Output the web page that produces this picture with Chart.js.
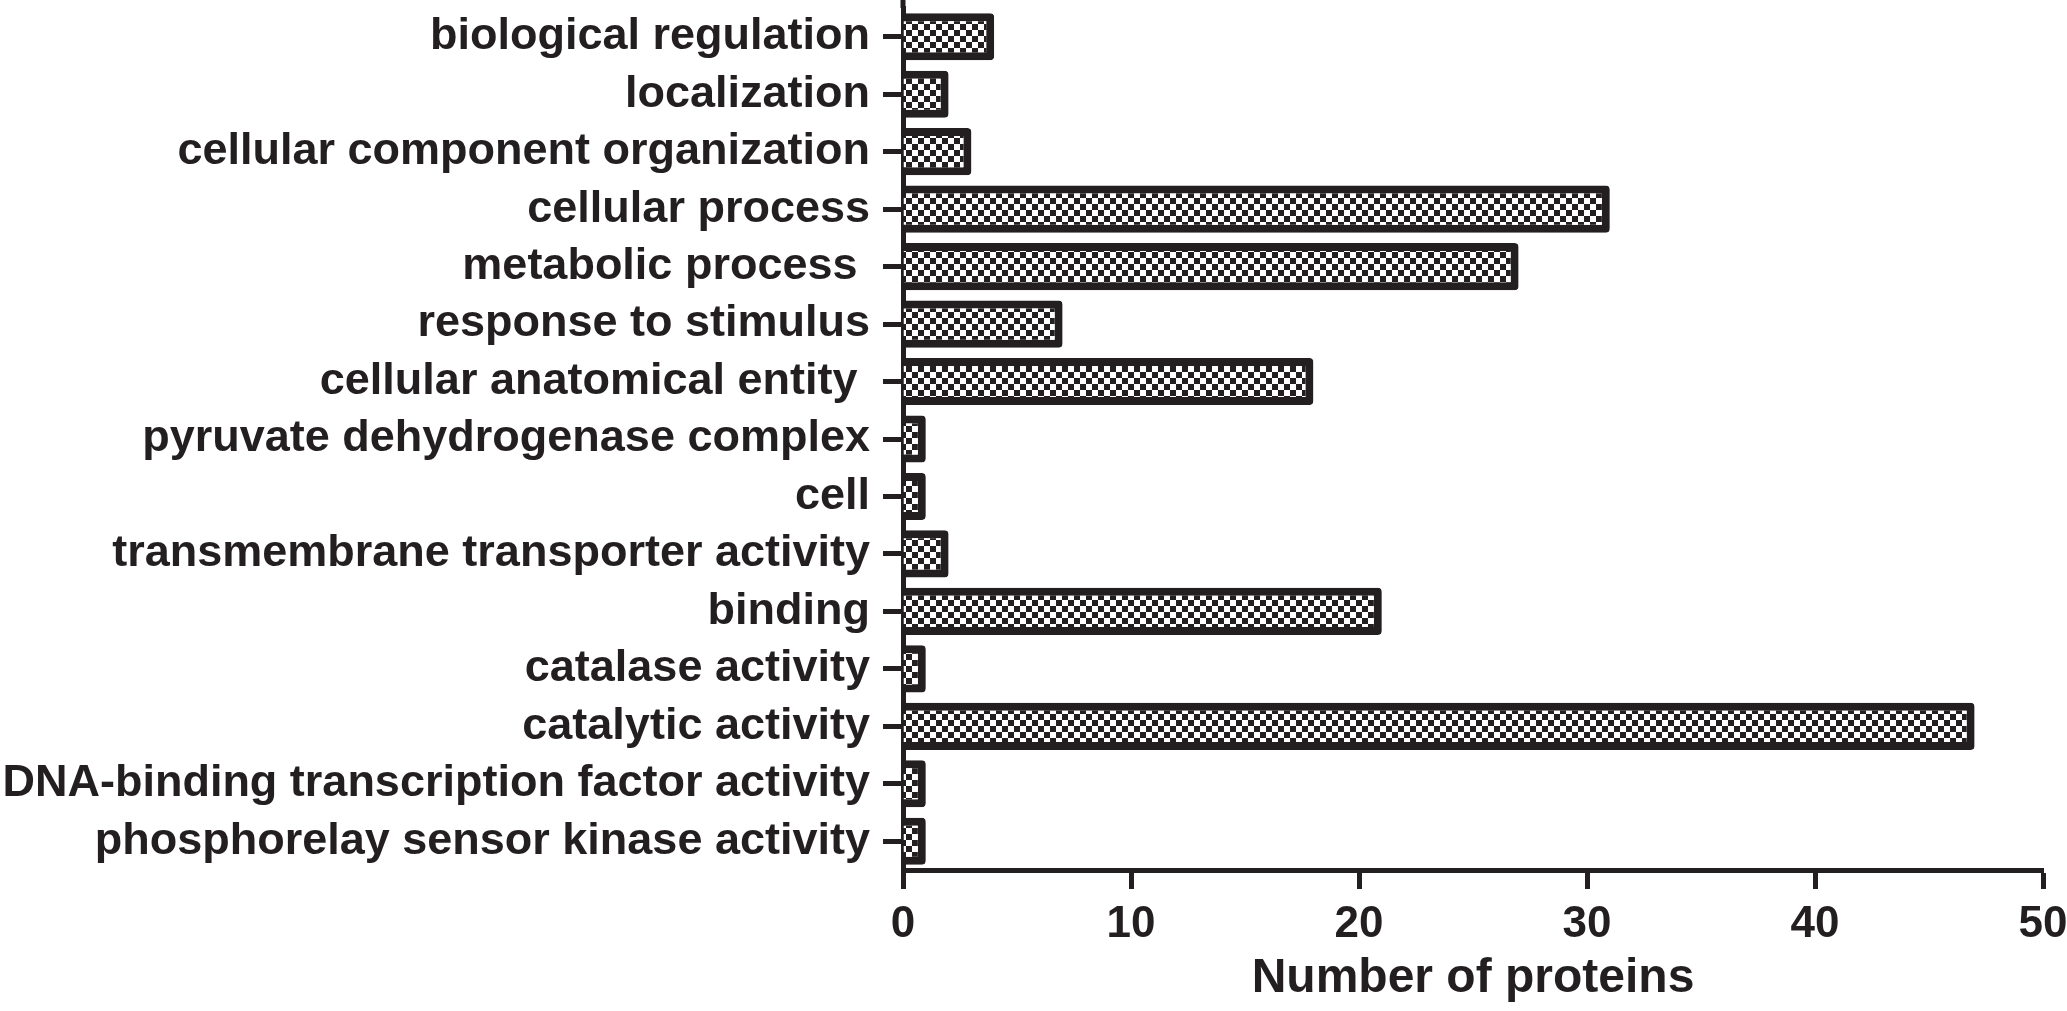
<!DOCTYPE html>
<html>
<head>
<meta charset="utf-8">
<script src="https://cdn.jsdelivr.net/npm/chart.js@4.4.1/dist/chart.umd.min.js"></script>
<style>
  html, body { margin: 0; padding: 0; background: #fff; }
  #wrap { width: 2067px; height: 1011px; position: relative; }
</style>
</head>
<body>
<div id="wrap"><canvas id="goChart"></canvas></div>
<script>
// GO categories, top to bottom as in the figure
var categories = [
  'biological regulation',
  'localization',
  'cellular component organization',
  'cellular process',
  'metabolic process ',
  'response to stimulus',
  'cellular anatomical entity ',
  'pyruvate dehydrogenase complex',
  'cell',
  'transmembrane transporter activity',
  'binding',
  'catalase activity',
  'catalytic activity',
  'DNA-binding transcription factor activity',
  'phosphorelay sensor kinase activity'
];
var proteinCounts = [4, 2, 3, 31, 27, 7, 18, 1, 1, 2, 21, 1, 47, 1, 1];
var xMin = 0, xMax = 50, xStep = 10;
var xTitle = 'Number of proteins';

var ink = '#231f20';

// checkered fill like the printed figure
function makeChecker() {
  var c = document.createElement('canvas');
  c.width = 12; c.height = 12;
  var g = c.getContext('2d');
  g.fillStyle = '#fff';
  g.fillRect(0, 0, 12, 12);
  g.fillStyle = ink;
  g.fillRect(0, 0, 6, 6);
  g.fillRect(6, 6, 6, 6);
  return g.createPattern(c, 'repeat');
}

// the y axis line in the figure runs up to the top edge
var axisTop = {
  id: 'axisTop',
  afterDraw: function(chart) {
    var ctx = chart.ctx, a = chart.chartArea;
    ctx.save();
    ctx.strokeStyle = ink;
    ctx.lineWidth = 5;
    ctx.beginPath();
    ctx.moveTo(a.left, 0);
    ctx.lineTo(a.left, a.top);
    ctx.stroke();
    ctx.restore();
  }
};

var ctx = document.getElementById('goChart').getContext('2d');
var goChart = new Chart(ctx, {
  type: 'bar',
  data: {
    labels: categories,
    datasets: [{
      data: proteinCounts,
      backgroundColor: makeChecker(),
      borderColor: ink,
      borderWidth: 8,
      borderRadius: 4,
      barPercentage: 0.82,
      categoryPercentage: 1.0
    }]
  },
  options: {
    indexAxis: 'y',
    responsive: true,
    maintainAspectRatio: false,
    animation: false,
    layout: { padding: { top: 8, right: 0, left: 0, bottom: 0 } },
    plugins: {
      legend: { display: false },
      tooltip: { enabled: false }
    },
    scales: {
      x: {
        min: xMin,
        max: xMax,
        afterFit: function(scale) {
          scale.height = 141;
          scale.paddingLeft = 0;
          scale.paddingRight = 24;
        },
        border: { display: true, color: ink, width: 5 },
        grid: {
          drawOnChartArea: false,
          drawTicks: true,
          tickLength: 19,
          tickWidth: 5,
          tickColor: ink
        },
        ticks: {
          stepSize: xStep,
          color: ink,
          padding: 9,
          maxRotation: 0,
          font: { family: 'Liberation Sans', weight: 'bold', size: 44 }
        },
        title: {
          display: true,
          text: xTitle,
          color: ink,
          padding: { top: 0, bottom: 3 },
          font: { family: 'Liberation Sans', weight: 'bold', size: 48 }
        }
      },
      y: {
        afterFit: function(scale) {
          scale.width = 903;
          scale.paddingTop = 0;
          scale.paddingBottom = 0;
        },
        border: { display: true, color: ink, width: 5 },
        grid: {
          offset: false,
          drawOnChartArea: false,
          drawTicks: true,
          tickLength: 20,
          tickWidth: 5,
          tickColor: ink
        },
        ticks: {
          color: ink,
          padding: 13,
          autoSkip: false,
          font: { family: 'Liberation Sans', weight: 'bold', size: 45 }
        }
      }
    }
  },
  plugins: [axisTop]
});
</script>
</body>
</html>
